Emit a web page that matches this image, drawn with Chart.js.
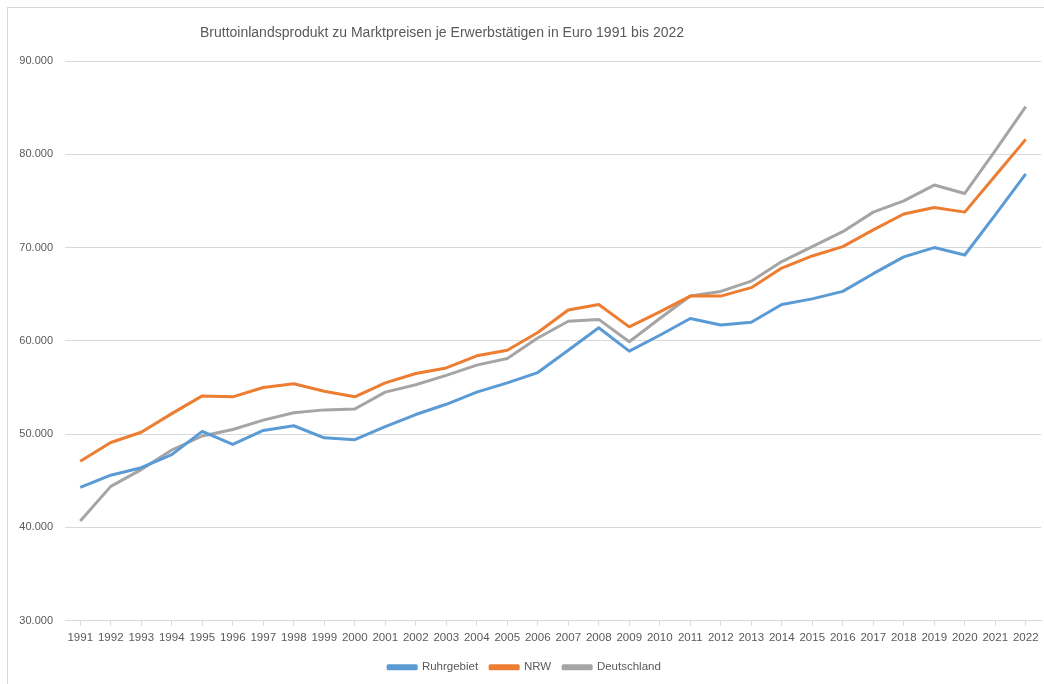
<!DOCTYPE html>
<html lang="de">
  <head>
    <meta charset="UTF-8" />
    <title>Bruttoinlandsprodukt je Erwerbstätigen</title>
    <script src="https://cdn.jsdelivr.net/npm/chart.js"></script>
    <style>
      html,
      body {
        margin: 0;
        padding: 0;
        background: #ffffff;
        overflow: hidden;
      }
      #box {
        position: absolute;
        left: 7px;
        top: 7px;
        width: 1040px;
        height: 680px;
        border: 1px solid #d9d9d9;
      }
      #chart {
        display: block;
      }
    </style>
  </head>
  <body>
    <div id="box">
      <canvas id="chart" width="1036" height="676"></canvas>
    </div>
    <script>
      // Jahre
      const years = [
        "1991", "1992", "1993", "1994", "1995", "1996", "1997", "1998",
        "1999", "2000", "2001", "2002", "2003", "2004", "2005", "2006",
        "2007", "2008", "2009", "2010", "2011", "2012", "2013", "2014",
        "2015", "2016", "2017", "2018", "2019", "2020", "2021", "2022",
      ];

      // BIP je Erwerbstätigen in Euro
      const ruhrgebiet = [
        44300, 45600, 46400, 47800, 50300, 48900, 50400, 50900,
        49600, 49400, 50800, 52100, 53200, 54500, 55500, 56600,
        59000, 61400, 58900, 60600, 62400, 61700, 62000, 63900,
        64500, 65300, 67200, 69000, 70000, 69200, 73500, 77900,
      ];
      const nrw = [
        47100, 49100, 50200, 52200, 54100, 54000, 55000, 55400,
        54600, 54000, 55500, 56500, 57100, 58400, 59000, 60900,
        63300, 63900, 61500, 63100, 64800, 64800, 65700, 67800,
        69100, 70100, 71900, 73600, 74300, 73800, 77700, 81600,
      ];
      const deutschland = [
        40700, 44400, 46200, 48300, 49800, 50500, 51500, 52300,
        52600, 52700, 54500, 55300, 56300, 57400, 58100, 60300,
        62100, 62300, 59900, 62400, 64800, 65300, 66400, 68500,
        70100, 71700, 73800, 75000, 76700, 75800, 80400, 85100,
      ];

      const seriesNames = ["Ruhrgebiet", "NRW", "Deutschland"];
      const seriesColors = ["#5b9bd5", "#ed7d31", "#a5a5a5"];

      const yMin = 30000;
      const yMax = 90000;
      const yStep = 10000;

      const titleText =
        "Bruttoinlandsprodukt zu Marktpreisen je Erwerbstätigen in Euro 1991 bis 2022";

      const textColor = "#595959";
      const gridColor = "#d9d9d9";
      const fontFamily = "'Liberation Sans', Arial, sans-serif";

      // Tausenderpunkt wie in der Vorlage
      function formatThousands(v) {
        return String(Math.round(v)).replace(/\B(?=(\d{3})+(?!\d))/g, ".");
      }

      // Titel sitzt in der Vorlage links von der Mitte
      const titlePlugin = {
        id: "leftTitle",
        afterDraw: function (chart) {
          const c = chart.ctx;
          c.save();
          c.fillStyle = textColor;
          c.font = "14px " + fontFamily;
          c.textAlign = "center";
          c.textBaseline = "middle";
          c.fillText(titleText, 434, 25);
          c.restore();
        },
      };

      const allSeries = [ruhrgebiet, nrw, deutschland];
      const datasets = allSeries.map(function (values, i) {
        return {
          label: seriesNames[i],
          data: values,
          borderColor: seriesColors[i],
          backgroundColor: seriesColors[i],
          borderWidth: 3,
          pointRadius: 0,
          pointHoverRadius: 0,
          tension: 0,
          fill: false,
          borderJoinStyle: "round",
        };
      });

      const ctx = document.getElementById("chart").getContext("2d");
      const chart = new Chart(ctx, {
        type: "line",
        data: { labels: years, datasets: datasets },
        plugins: [titlePlugin],
        options: {
          responsive: false,
          animation: false,
          events: [],
          layout: { padding: { top: 53, right: 3, bottom: 1, left: 0 } },
          plugins: {
            title: { display: false },
            legend: {
              position: "bottom",
              labels: {
                color: textColor,
                font: { family: fontFamily, size: 11.5 },
                boxWidth: 28,
                boxHeight: 3,
                padding: 12,
              },
            },
            tooltip: { enabled: false },
          },
          scales: {
            x: {
              offset: true,
              grid: {
                offset: false,
                drawOnChartArea: false,
                drawTicks: true,
                tickLength: 5,
                tickColor: gridColor,
              },
              border: { display: true, color: gridColor, width: 1 },
              ticks: {
                color: textColor,
                font: { family: fontFamily, size: 11.5 },
                autoSkip: false,
                maxRotation: 0,
                minRotation: 0,
                padding: 5,
              },
            },
            y: {
              min: yMin,
              max: yMax,
              grid: {
                color: gridColor,
                lineWidth: 1,
                drawTicks: false,
              },
              border: { display: false },
              ticks: {
                stepSize: yStep,
                color: textColor,
                font: { family: fontFamily, size: 11 },
                padding: 12,
                callback: function (value) {
                  return formatThousands(value);
                },
              },
              afterFit: function (scale) {
                scale.width = 57;
              },
            },
          },
        },
      });
    </script>
  </body>
</html>
